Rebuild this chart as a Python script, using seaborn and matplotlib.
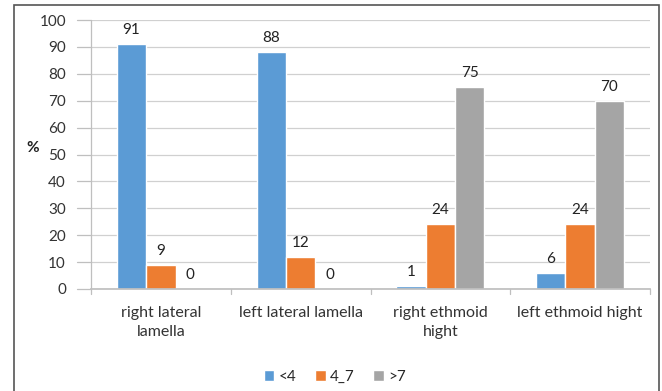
import matplotlib
matplotlib.use("Agg")
import matplotlib.pyplot as plt
import seaborn as sns
import pandas as pd
from matplotlib.patches import Rectangle

categories = ["right lateral\nlamella", "left lateral lamella", "right ethmoid\nhight", "left ethmoid hight"]
groups = ["<4", "4_7", ">7"]
values_lt4 = [91, 88, 1, 6]
values_4_7 = [9, 12, 24, 24]
values_gt7 = [0, 0, 75, 70]
colors = ["#5B9BD5", "#ED7D31", "#A5A5A5"]
yticks = [0, 10, 20, 30, 40, 50, 60, 70, 80, 90, 100]

rows = []
for g, vals in zip(groups, [values_lt4, values_4_7, values_gt7]):
    for c, v in zip(categories, vals):
        rows.append({"category": c, "group": g, "value": v})
df = pd.DataFrame(rows)

sns.set_theme(style="white")
plt.rcParams["font.family"] = ["Lato", "DejaVu Sans"]

fig = plt.figure(figsize=(6.62, 3.91), dpi=100)
ax = fig.add_axes([91 / 662, 1 - 289 / 391, (650 - 91) / 662, (289 - 20) / 391])

sns.barplot(data=df, x="category", y="value", hue="group", order=categories,
            hue_order=groups, palette=colors, width=0.63, saturation=1,
            ax=ax, legend=True)

for cont in ax.containers:
    ax.bar_label(cont, fmt="%d", padding=5, fontsize=11, color="#222222")

ax.set_ylim(0, 100)
ax.set_xlim(-0.5, 3.5)
ax.set_yticks(yticks)
ax.yaxis.grid(True, color="#D0D0D0", linewidth=0.9)
ax.set_axisbelow(True)
for s in ["top", "right", "left"]:
    ax.spines[s].set_visible(False)
ax.spines["bottom"].set_color("#BFBFBF")
ax.tick_params(axis="y", length=0, labelsize=11, colors="#333333", pad=18)
ax.tick_params(axis="x", length=0, labelsize=11.5, colors="#333333", pad=12)
for lbl in ax.get_xticklabels():
    lbl.set_linespacing(1.45)

# category separator ticks on the x axis and outward ticks on the y axis
trans_x = ax.get_xaxis_transform()
for xb in [-0.5, 0.5, 1.5, 2.5, 3.5]:
    ax.plot([xb, xb], [0, -0.02], transform=trans_x, color="#BFBFBF", lw=0.9, clip_on=False)
trans_y = ax.get_yaxis_transform()
for yv in yticks:
    ax.plot([-0.025, 0], [yv, yv], transform=trans_y, color="#BFBFBF", lw=0.9, clip_on=False)
ax.plot([0, 0], [0, 100], transform=trans_y, color="#BFBFBF", lw=0.9, clip_on=False)

ax.set_xlabel("")
ax.set_ylabel("%", rotation=0, fontsize=11, fontweight="bold", color="#222222", labelpad=12)
ax.yaxis.set_label_coords(-0.105, 0.5)

handles, labels = ax.get_legend_handles_labels()
ax.legend(handles, labels, loc="center", bbox_to_anchor=(335 / 662, 1 - 377 / 391),
          bbox_transform=fig.transFigure, ncol=3, frameon=False, fontsize=11,
          handlelength=0.7, handleheight=0.7, handletextpad=0.3, columnspacing=1.2)

fig.patches.append(Rectangle((14 / 662, -0.05), (659 - 14) / 662, 1.05 - 5 / 391,
                             transform=fig.transFigure, fill=False,
                             edgecolor="#555555", linewidth=1.2))

fig.savefig("out.png", dpi=100)
